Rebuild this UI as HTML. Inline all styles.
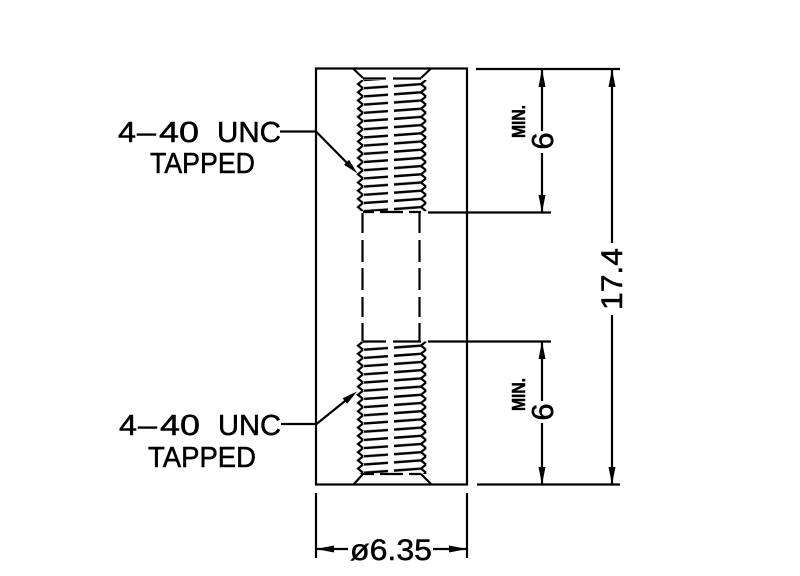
<!DOCTYPE html>
<html>
<head>
<meta charset="utf-8">
<style>
  html,body{margin:0;padding:0;background:#fff;}
  svg{display:block;}
  text{font-family:"Liberation Sans",sans-serif;fill:#000;stroke:#000;stroke-width:0.5;}
</style>
</head>
<body>
<svg width="800" height="576" viewBox="0 0 800 576" xmlns="http://www.w3.org/2000/svg">
  <defs>
    <pattern id="thrA" patternUnits="userSpaceOnUse" x="0" y="80" width="800" height="8.2">
      <g fill="none" stroke="#000">
        <path d="M363,0 L358,4.1 L363,8.2" stroke-width="2.2"/>
        <path d="M426,0 L421,4.1 L426,8.2" stroke-width="2.2"/>
        <path d="M364,8.2 L388,6.5 M394,6.1 L421,4.1 M364,0 L388,-1.7 M394,-2.1 L421,-4.1" stroke-width="2.5"/>
      </g>
    </pattern>
    <pattern id="thrB" patternUnits="userSpaceOnUse" x="0" y="341.5" width="800" height="8.2">
      <g fill="none" stroke="#000">
        <path d="M363,0 L358,4.1 L363,8.2" stroke-width="2.2"/>
        <path d="M426,0 L421,4.1 L426,8.2" stroke-width="2.2"/>
        <path d="M364,8.2 L388,6.5 M394,6.1 L421,4.1 M364,0 L388,-1.7 M394,-2.1 L421,-4.1" stroke-width="2.5"/>
      </g>
    </pattern>
  </defs>

  <rect width="800" height="576" fill="#fff"/>

  <!-- main body -->
  <rect x="316" y="68.5" width="151" height="416" fill="none" stroke="#000" stroke-width="2.2"/>

  <!-- chamfers -->
  <g stroke="#000" stroke-width="2.2" fill="none">
    <path d="M353,68.5 L363,78 M431,68.5 L421,78"/>
    <path d="M363,474 L354,484 M421,474 L431,484"/>
  </g>

  <!-- threads -->
  <rect x="352" y="80" width="80" height="131.2" fill="url(#thrA)"/>
  <rect x="352" y="341.5" width="80" height="132.5" fill="url(#thrB)"/>

  <!-- hidden thread end lines -->
  <g stroke="#000" stroke-width="2.2" fill="none">
    <path d="M363,78.5 H386 M393,78.5 H421"/>
    <path d="M363,212 H374 M380,212 H403 M409,212 H421"/>
    <path d="M363,341.5 H386 M393,341.5 H421"/>
    <path d="M363,474 H374 M380,474 H403 M409,474 H421"/>
  </g>

  <!-- bore hidden lines -->
  <g stroke="#000" stroke-width="2.2" fill="none">
    <path d="M362.5,213 V233 M362.5,240 V262 M362.5,268 V290 M362.5,297 V317 M362.5,323 V341"/>
    <path d="M419.5,213 V233 M419.5,240 V262 M419.5,268 V290 M419.5,297 V317 M419.5,323 V341"/>
  </g>

  <!-- extension lines -->
  <g stroke="#000" stroke-width="2.2" fill="none">
    <path d="M476,69 H620"/>
    <path d="M477,484.5 H620"/>
    <path d="M428,212.5 H551"/>
    <path d="M428,341.5 H551"/>
    <path d="M316,493 V558"/>
    <path d="M467,493 V558"/>
  </g>

  <!-- dimension lines -->
  <g stroke="#000" stroke-width="2.2" fill="none">
    <path d="M542,69 V131 M542,153 V212.5"/>
    <path d="M542,341.5 V401 M542,423 V484.5"/>
    <path d="M612,69 V243 M612,315 V484.5"/>
    <path d="M316,549 H348 M433,549 H467"/>
  </g>

  <!-- arrowheads -->
  <g fill="#000" stroke="none">
    <polygon points="542,69 538.5,87 545.5,87"/>
    <polygon points="542,212.5 538.5,195 545.5,195"/>
    <polygon points="542,341.5 538.5,359 545.5,359"/>
    <polygon points="542,484.5 538.5,467 545.5,467"/>
    <polygon points="612,69 608.5,87 615.5,87"/>
    <polygon points="612,484.5 608.5,467 615.5,467"/>
    <polygon points="316,549 334,545.5 334,552.5"/>
    <polygon points="467,549 449,545.5 449,552.5"/>
    <!-- leader arrows -->
    <polygon points="357.5,173.5 344,164.8 349,159.8"/>
    <polygon points="357,391.5 347.1,403.7 342.7,398.3"/>
  </g>

  <!-- leaders -->
  <g stroke="#000" stroke-width="2.2" fill="none">
    <path d="M280,131.5 H316 L350,166"/>
    <path d="M281,424 H316.5 L350,397"/>
  </g>

  <!-- labels upper -->
  <text x="118" y="142" font-size="29" textLength="18" lengthAdjust="spacingAndGlyphs">4</text>
  <text x="137" y="142" font-size="29" textLength="19" lengthAdjust="spacingAndGlyphs">–</text>
  <text x="159" y="142" font-size="29" textLength="40" lengthAdjust="spacingAndGlyphs">40</text>
  <text x="217" y="142" font-size="29" textLength="64" lengthAdjust="spacingAndGlyphs">UNC</text>
  <text x="150" y="173" font-size="29" textLength="105" lengthAdjust="spacingAndGlyphs">TAPPED</text>

  <!-- labels lower -->
  <text x="119" y="435" font-size="29" textLength="18" lengthAdjust="spacingAndGlyphs">4</text>
  <text x="138" y="435" font-size="29" textLength="19" lengthAdjust="spacingAndGlyphs">–</text>
  <text x="160" y="435" font-size="29" textLength="40" lengthAdjust="spacingAndGlyphs">40</text>
  <text x="218" y="435" font-size="29" textLength="63" lengthAdjust="spacingAndGlyphs">UNC</text>
  <text x="148" y="467" font-size="29" textLength="108" lengthAdjust="spacingAndGlyphs">TAPPED</text>

  <!-- vertical dimension texts -->
  <text transform="translate(525,138) rotate(-90)" font-size="18" font-weight="bold" textLength="33" lengthAdjust="spacingAndGlyphs">MIN.</text>
  <text transform="translate(553,141) rotate(-90)" font-size="31" text-anchor="middle">6</text>
  <text transform="translate(525,411) rotate(-90)" font-size="18" font-weight="bold" textLength="33" lengthAdjust="spacingAndGlyphs">MIN.</text>
  <text transform="translate(553,412) rotate(-90)" font-size="31" text-anchor="middle">6</text>
  <text transform="translate(622,279) rotate(-90)" font-size="30" text-anchor="middle" textLength="62" lengthAdjust="spacingAndGlyphs">17.4</text>

  <!-- diameter -->
  <text x="350" y="560" font-size="30" textLength="82" lengthAdjust="spacingAndGlyphs">ø6.35</text>
</svg>
</body>
</html>
